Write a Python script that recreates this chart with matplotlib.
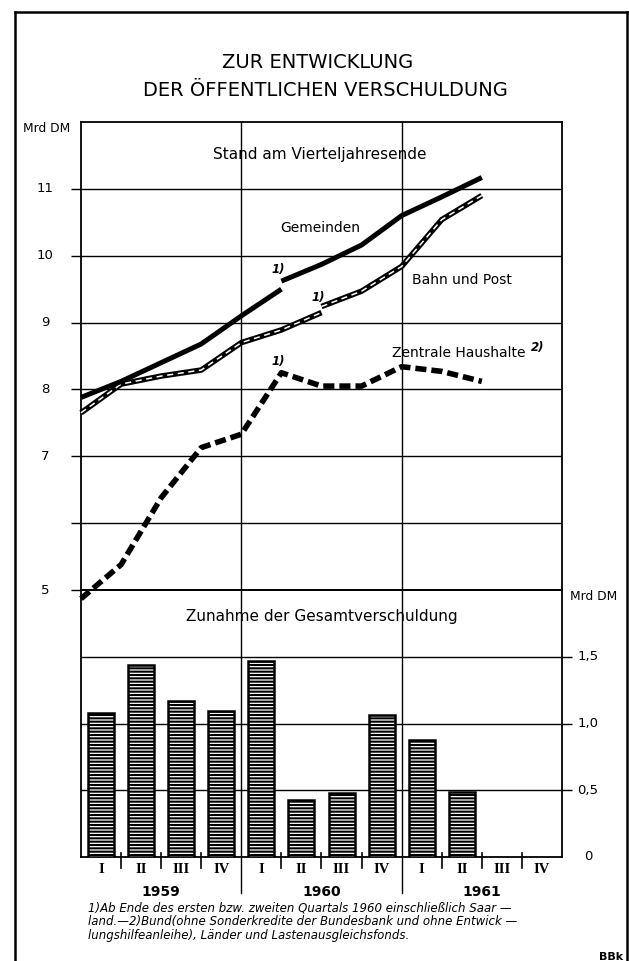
import numpy as np
import matplotlib
matplotlib.use("Agg")
import matplotlib.pyplot as plt
from matplotlib.lines import Line2D
import matplotlib.transforms as mtransforms

# ---------------- data ----------------
quarters = ["I", "II", "III", "IV", "I", "II", "III", "IV", "I", "II", "III", "IV"]
years = ["1959", "1960", "1961"]

# quarter-end positions: 0 = end 1958, 1 = end 1959 I, ... 10 = end 1961 II
gem_old_x = [0, 1, 2, 3, 4, 5]
gem_old = [7.88, 8.12, 8.40, 8.68, 9.10, 9.50]
gem_new_x = [5, 6, 7, 8, 9, 10]
gem_new = [9.62, 9.87, 10.16, 10.60, 10.88, 11.17]

bahn_old_x = [0, 1, 2, 3, 4, 5, 6]
bahn_old = [7.65, 8.08, 8.20, 8.29, 8.70, 8.89, 9.15]
bahn_new_x = [6, 7, 8, 9, 10]
bahn_new = [9.24, 9.47, 9.84, 10.54, 10.90]

zent_x = [0, 1, 2, 3, 4, 5, 6, 7, 8, 9, 10]
zent = [4.87, 5.38, 6.38, 7.13, 7.33, 8.25, 8.05, 8.05, 8.34, 8.27, 8.12]

# increase of total debt per quarter (Mrd DM)
zunahme = [1.08, 1.435, 1.17, 1.09, 1.47, 0.43, 0.48, 1.06, 0.88, 0.49, np.nan, np.nan]

upper_ticks = [5, 6, 7, 8, 9, 10, 11]
upper_ticklabels = ["5", "", "7", "8", "9", "10", "11"]
lower_ticks = [0, 0.5, 1.0, 1.5]
lower_ticklabels = ["0", "0,5", "1,0", "1,5"]

# ---------------- figure ----------------
W, H = 629, 961
fig = plt.figure(figsize=(W / 100, H / 100), dpi=100)
plt.rcParams['hatch.linewidth'] = 1.5

def fx(x):
    return x / W

def fy(y):
    return 1 - y / H

X0, X1 = 81, 562
YT, YM, YB = 122, 590, 857

axb = fig.add_axes([fx(X0), fy(YB), (X1 - X0) / W, (YB - YM) / H])
ax = fig.add_axes([fx(X0), fy(YM), (X1 - X0) / W, (YM - YT) / H])
ax.set_zorder(2)
axb.set_zorder(1)
ax.patch.set_visible(False)

for a in (ax, axb):
    a.set_xlim(0, 12)
    a.set_xticks([])
    for s in a.spines.values():
        s.set_linewidth(1.3)
        s.set_color("black")

GL = 1.0
# ---- upper panel ----
ax.set_ylim(5, 12)
ax.set_yticks(upper_ticks)
ax.set_yticklabels([])
ax.tick_params(axis="y", direction="out", length=7.5, width=GL, left=True, right=False)
for t in upper_ticks[1:]:
    ax.axhline(t, color="black", lw=GL, zorder=1)
for xv in (4, 8):
    ax.axvline(xv, color="black", lw=GL, zorder=1)
tr = mtransforms.blended_transform_factory(fig.transFigure, ax.transData)
for t, lab in zip(upper_ticks, upper_ticklabels):
    ax.text(fx(45), t, lab, transform=tr, ha="center", va="center", fontsize=9.5)

# Gemeinden
ax.plot(gem_old_x, gem_old, color="black", lw=3.6, solid_capstyle="butt", zorder=5, clip_on=False)
ax.plot(gem_new_x, gem_new, color="black", lw=3.6, solid_capstyle="butt", zorder=5, clip_on=False)
# Bahn und Post (double line)
for xs, ys in ((bahn_old_x, bahn_old), (bahn_new_x, bahn_new)):
    ax.plot(xs, ys, color="black", lw=4.0, solid_capstyle="butt", zorder=4, clip_on=False)
    ax.plot(xs, ys, color="white", lw=1.1, dashes=(4, 3), dash_capstyle="butt", zorder=4.5, clip_on=False)
# Zentrale Haushalte
ax.plot(zent_x, zent, color="black", lw=4.0, dashes=(2.0, 0.9), dash_capstyle="butt", zorder=4, clip_on=False)

# ---- lower panel ----
axb.set_ylim(0, 2)
axb.set_yticks([0.5, 1.0, 1.5])
axb.set_yticklabels([])
axb.yaxis.tick_right()
axb.tick_params(axis="y", direction="out", length=7.5, width=GL, left=False, right=True)
for t in (0.5, 1.0, 1.5):
    axb.axhline(t, color="black", lw=GL, zorder=1)
for xv in (4, 8):
    axb.plot([xv, xv], [2, -0.27], color="black", lw=GL, zorder=1, clip_on=False)
trb = mtransforms.blended_transform_factory(fig.transFigure, axb.transData)
for t, lab in zip(lower_ticks, lower_ticklabels):
    axb.text(fx(588), t, lab, transform=trb, ha="center", va="center", fontsize=9.5)

xpos = np.arange(len(quarters)) + 0.5
axb.bar(xpos, zunahme, width=0.65, facecolor="white", edgecolor="black",
        linewidth=1.8, hatch="-----", zorder=3)

# quarter ticks and labels
for q in (1, 2, 3, 5, 6, 7, 9, 10, 11):
    axb.plot([q, q], [0.03, -0.085], color="black", lw=1.2, clip_on=False)
for xv, lab in zip(xpos, quarters):
    axb.text(xv, -0.097, lab, ha="center", va="center", fontsize=10.5,
             family="Liberation Serif", fontweight="bold")
for xv, lab in zip([2, 6, 10], years):
    axb.text(xv, -0.262, lab, ha="center", va="center", fontsize=10, fontweight="bold")

# ---------------- texts ----------------
fig.text(fx(318), fy(63), "ZUR ENTWICKLUNG", ha="center", va="center", fontsize=14)
fig.text(fx(325), fy(90), "DER ÖFFENTLICHEN VERSCHULDUNG", ha="center", va="center", fontsize=14)
fig.text(fx(47), fy(128), "Mrd DM", ha="center", va="center", fontsize=8.8)
fig.text(fx(594), fy(597), "Mrd DM", ha="center", va="center", fontsize=8.8)
fig.text(fx(320), fy(155), "Stand am Vierteljahresende", ha="center", va="center", fontsize=11)
fig.text(fx(322), fy(617), "Zunahme der Gesamtverschuldung", ha="center", va="center", fontsize=11)
fig.text(fx(320), fy(228), "Gemeinden", ha="center", va="center", fontsize=10)
fig.text(fx(462), fy(280), "Bahn und Post", ha="center", va="center", fontsize=10)
fig.text(fx(459), fy(353), "Zentrale Haushalte", ha="center", va="center", fontsize=10)
fig.text(fx(538), fy(347), "2)", ha="center", va="center", fontsize=8.5, style="italic", fontweight="bold")
for (x, y) in ((278, 270), (318, 297), (278, 362)):
    fig.text(fx(x), fy(y), "1)", ha="center", va="center", fontsize=8.5, style="italic", fontweight="bold")

foot = ["1)Ab Ende des ersten bzw. zweiten Quartals 1960 einschließlich Saar —",
        "land.—2)Bund(ohne Sonderkredite der Bundesbank und ohne Entwick —",
        "lungshilfeanleihe), Länder und Lastenausgleichsfonds."]
for i, line in enumerate(foot):
    fig.text(fx(88), fy(908 + i * 14), line, ha="left", va="center", fontsize=8.5, style="italic")
fig.text(fx(611), fy(957), "BBk", ha="center", va="center", fontsize=8, fontweight="bold")

# outer border
for (xa, ya, xb, yb) in ((15, 12, 627, 12), (15, 12, 15, 961), (627, 12, 627, 961)):
    fig.add_artist(Line2D([fx(xa), fx(xb)], [fy(ya), fy(yb)], transform=fig.transFigure,
                          color="black", lw=1.8))

fig.savefig("out.png", dpi=100)
